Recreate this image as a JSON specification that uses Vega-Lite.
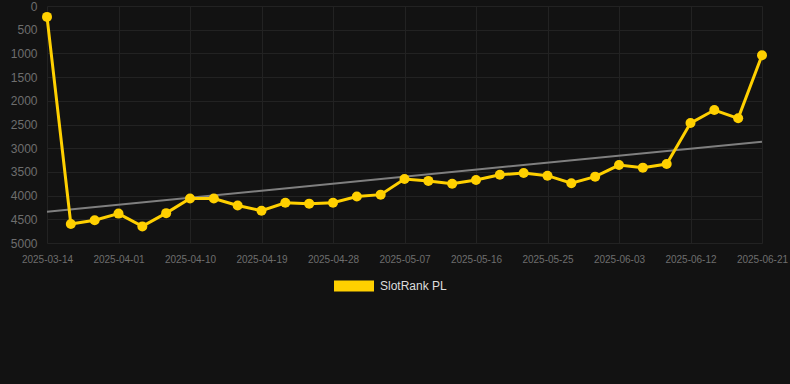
{
  "$schema": "https://vega.github.io/schema/vega-lite/v6.json",
  "autosize": {"type": "none"},
  "padding": {"left": 43, "top": 6, "right": 0, "bottom": 141},
  "width": 747,
  "height": 237,
  "background": "#121212",
  "config": {
    "view": {"stroke": null},
    "font": "Liberation Sans",
    "axis": {"domain": false, "ticks": false, "gridColor": "#222222", "gridWidth": 1, "labelColor": "#6e6e6e", "labelFont": "Liberation Sans"}
  },
  "datasets": {
    "main": [
      {"date": "2025-03-14", "rank": 230, "series": "SlotRank PL"},
      {"date": "2025-03-26", "rank": 4600, "series": "SlotRank PL"},
      {"date": "2025-03-29", "rank": 4520, "series": "SlotRank PL"},
      {"date": "2025-04-01", "rank": 4380, "series": "SlotRank PL"},
      {"date": "2025-04-04", "rank": 4650, "series": "SlotRank PL"},
      {"date": "2025-04-07", "rank": 4370, "series": "SlotRank PL"},
      {"date": "2025-04-10", "rank": 4060, "series": "SlotRank PL"},
      {"date": "2025-04-13", "rank": 4060, "series": "SlotRank PL"},
      {"date": "2025-04-16", "rank": 4210, "series": "SlotRank PL"},
      {"date": "2025-04-19", "rank": 4320, "series": "SlotRank PL"},
      {"date": "2025-04-22", "rank": 4150, "series": "SlotRank PL"},
      {"date": "2025-04-25", "rank": 4170, "series": "SlotRank PL"},
      {"date": "2025-04-28", "rank": 4150, "series": "SlotRank PL"},
      {"date": "2025-05-01", "rank": 4020, "series": "SlotRank PL"},
      {"date": "2025-05-04", "rank": 3980, "series": "SlotRank PL"},
      {"date": "2025-05-07", "rank": 3650, "series": "SlotRank PL"},
      {"date": "2025-05-10", "rank": 3690, "series": "SlotRank PL"},
      {"date": "2025-05-13", "rank": 3750, "series": "SlotRank PL"},
      {"date": "2025-05-16", "rank": 3670, "series": "SlotRank PL"},
      {"date": "2025-05-19", "rank": 3560, "series": "SlotRank PL"},
      {"date": "2025-05-22", "rank": 3525, "series": "SlotRank PL"},
      {"date": "2025-05-25", "rank": 3580, "series": "SlotRank PL"},
      {"date": "2025-05-28", "rank": 3740, "series": "SlotRank PL"},
      {"date": "2025-05-31", "rank": 3600, "series": "SlotRank PL"},
      {"date": "2025-06-03", "rank": 3355, "series": "SlotRank PL"},
      {"date": "2025-06-06", "rank": 3410, "series": "SlotRank PL"},
      {"date": "2025-06-09", "rank": 3335, "series": "SlotRank PL"},
      {"date": "2025-06-12", "rank": 2470, "series": "SlotRank PL"},
      {"date": "2025-06-15", "rank": 2195, "series": "SlotRank PL"},
      {"date": "2025-06-18", "rank": 2370, "series": "SlotRank PL"},
      {"date": "2025-06-21", "rank": 1040, "series": "SlotRank PL"}
    ],
    "trend": [
      {"date": "2025-03-14", "rank": 4340},
      {"date": "2025-06-21", "rank": 2862}
    ]
  },
  "encoding": {
    "x": {
      "field": "date", "type": "ordinal", "sort": null,
      "scale": {
        "type": "point", "range": [4, 719], "padding": 0,
        "domain": ["2025-03-14", "2025-03-26", "2025-03-29", "2025-04-01", "2025-04-04", "2025-04-07", "2025-04-10", "2025-04-13", "2025-04-16", "2025-04-19", "2025-04-22", "2025-04-25", "2025-04-28", "2025-05-01", "2025-05-04", "2025-05-07", "2025-05-10", "2025-05-13", "2025-05-16", "2025-05-19", "2025-05-22", "2025-05-25", "2025-05-28", "2025-05-31", "2025-06-03", "2025-06-06", "2025-06-09", "2025-06-12", "2025-06-15", "2025-06-18", "2025-06-21"]
      },
      "axis": {
        "title": null, "labelAngle": 0, "labelFontSize": 10, "labelPadding": 11, "grid": true,
        "values": ["2025-03-14", "2025-04-01", "2025-04-10", "2025-04-19", "2025-04-28", "2025-05-07", "2025-05-16", "2025-05-25", "2025-06-03", "2025-06-12", "2025-06-21"]
      }
    },
    "y": {
      "field": "rank", "type": "quantitative",
      "scale": {"domain": [0, 5000], "reverse": true, "nice": false, "zero": false},
      "axis": {"title": null, "format": "d", "labelFontSize": 12, "labelPadding": 6, "values": [0, 500, 1000, 1500, 2000, 2500, 3000, 3500, 4000, 4500, 5000], "grid": true}
    }
  },
  "layer": [
    {
      "data": {"name": "trend"},
      "mark": {"type": "line", "color": "#7f7f7f", "strokeWidth": 2}
    },
    {
      "data": {"name": "main"},
      "mark": {"type": "line", "strokeWidth": 3, "point": {"filled": true, "size": 100}},
      "encoding": {
        "color": {
          "field": "series", "type": "nominal",
          "scale": {"range": ["#FFD000"]},
          "legend": {
            "title": null, "orient": "none", "legendX": 291, "legendY": 260,
            "symbolType": "M-1,-0.275L1,-0.275L1,0.275L-1,0.275Z",
            "symbolSize": 1600, "symbolStrokeWidth": 0, "symbolFillColor": "#FFD000",
            "labelColor": "#dddddd", "labelFontSize": 12, "labelFont": "Liberation Sans", "labelOffset": 6
          }
        }
      }
    }
  ]
}
